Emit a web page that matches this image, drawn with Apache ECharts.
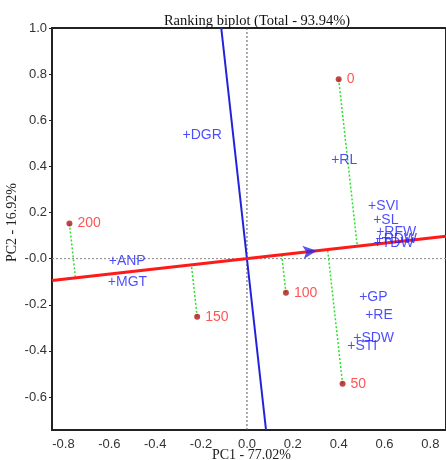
<!DOCTYPE html>
<html><head><meta charset="utf-8">
<script src="https://cdn.jsdelivr.net/npm/echarts@6/dist/echarts.min.js"></script>
<style>html,body{margin:0;padding:0;background:#fff}#c{width:446px;height:460px}</style>
</head><body><div id="c"></div>
<script>
// Environments (red points)
const envNames = ['0', '200', '150', '100', '50'];
const envX = [0.400, -0.774, -0.217, 0.170, 0.417];
const envY = [0.778, 0.152, -0.252, -0.148, -0.543];
// Traits (blue labels)
const traitNames = ['DGR', 'RL', 'SVI', 'SL', 'RFW', 'RDW', 'TDW', 'GP', 'RE', 'SDW', 'STI', 'ANP', 'MGT'];
const traitX = [-0.261, 0.387, 0.548, 0.570, 0.583, 0.580, 0.572, 0.509, 0.535, 0.483, 0.457, -0.583, -0.587];
const traitY = [0.535, 0.426, 0.226, 0.165, 0.113, 0.085, 0.066, -0.165, -0.243, -0.343, -0.378, -0.009, -0.100];
// Axis ticks
const xTicks = [-0.8, -0.6, -0.4, -0.2, 0.0, 0.2, 0.4, 0.6, 0.8];
const yTicks = [-0.6, -0.4, -0.2, 0.0, 0.2, 0.4, 0.6, 0.8, 1.0];
// Average environment axis slope, arrow position
const aeaSlope = 0.112;
const arrowX = 0.305;

const xMin = -0.85, xMax = 0.868, yMin = -0.743, yMax = 1.0;

const env = envNames.map((n, i) => [envX[i], envY[i], n]);
const traits = traitNames.map((n, i) => [traitX[i], traitY[i], n]);
const dn = Math.sqrt(1 + aeaSlope * aeaSlope);
const proj = [];
env.forEach(p => {
  const t = (p[0] + p[1] * aeaSlope) / dn;
  proj.push([p[0], p[1]], [t / dn, t * aeaSlope / dn], null);
});
const sansFont = 'Liberation Sans, Arial, sans-serif';
const serifFont = 'Liberation Serif, Times New Roman, serif';

const chart = echarts.init(document.getElementById('c'));
chart.setOption({
  animation: false,
  backgroundColor: '#fff',
  title: { text: 'Ranking biplot (Total - 93.94%)', left: 252, top: 9, textAlign: 'center',
    textStyle: { fontFamily: serifFont, fontSize: 14.5, fontWeight: 'normal', color: '#111' } },
  grid: { left: 52, top: 28, right: -3, bottom: 30, show: true, borderColor: '#222', borderWidth: 2 },
  xAxis: { type: 'value', min: xMin, max: xMax,
    axisLine: { onZero: false, lineStyle: { color: '#222', width: 2 } },
    axisTick: { show: false },
    splitLine: { show: false },
    axisLabel: { customValues: xTicks, formatter: v => v.toFixed(1), fontFamily: sansFont, fontSize: 13, color: '#333', margin: 8 } },
  yAxis: { type: 'value', min: yMin, max: yMax,
    axisLine: { onZero: false, lineStyle: { color: '#222', width: 2 } },
    axisTick: { show: true, customValues: yTicks, length: 3, lineStyle: { color: '#222' } },
    splitLine: { show: false },
    axisLabel: { customValues: yTicks, formatter: v => (Math.abs(v) < 1e-9 ? '-0.0' : v.toFixed(1)), fontFamily: sansFont, fontSize: 13, color: '#333', margin: 5 } },
  graphic: [
    { type: 'text', left: 212, top: 448, style: { text: 'PC1 - 77.02%', font: '14px ' + serifFont, fill: '#222' } },
    { type: 'text', x: 5, y: 262, rotation: Math.PI / 2, style: { text: 'PC2 - 16.92%', font: '14px ' + serifFont, fill: '#222' } }
  ],
  series: [
    { type: 'line', data: [[0, yMin], [0, yMax]], symbol: 'none', silent: true,
      lineStyle: { color: '#555', width: 1, type: [2, 2] }, z: 1 },
    { type: 'line', data: [[xMin, 0], [xMax, 0]], symbol: 'none', silent: true,
      lineStyle: { color: '#888', width: 1, type: [2, 2] }, z: 1 },
    { type: 'line', data: proj, symbol: 'none', connectNulls: false, silent: true,
      lineStyle: { color: '#2ee02e', width: 1.5, type: [2, 2] }, z: 2 },
    { type: 'line', data: [[-aeaSlope * yMax, yMax], [-aeaSlope * yMin, yMin]], symbol: 'none', silent: true,
      lineStyle: { color: '#2222dd', width: 2 }, z: 3 },
    { type: 'line', data: [[xMin, xMin * aeaSlope], [xMax, xMax * aeaSlope]], symbol: 'none', silent: true,
      lineStyle: { color: '#ff1a1a', width: 3 }, z: 4 },
    { type: 'scatter', data: [[arrowX, arrowX * aeaSlope]], symbol: 'arrow', symbolSize: [10, 14],
      symbolRotate: -90 + Math.atan(aeaSlope) * 180 / Math.PI, itemStyle: { color: '#2a2ae8' }, z: 5 },
    { type: 'scatter', data: env, symbolSize: 6, itemStyle: { color: '#b01818' }, z: 6,
      label: { show: true, position: 'right', distance: 5, formatter: p => p.data[2],
        fontFamily: sansFont, fontSize: 14, color: '#ff2a2a' } },
    { type: 'scatter', data: traits, symbolSize: 1, itemStyle: { color: 'rgba(0,0,0,0)' }, z: 6,
      label: { show: true, position: 'right', distance: -5, formatter: p => '+' + p.data[2],
        fontFamily: sansFont, fontSize: 14, color: '#1f1fff' } }
  ]
});
</script></body></html>
